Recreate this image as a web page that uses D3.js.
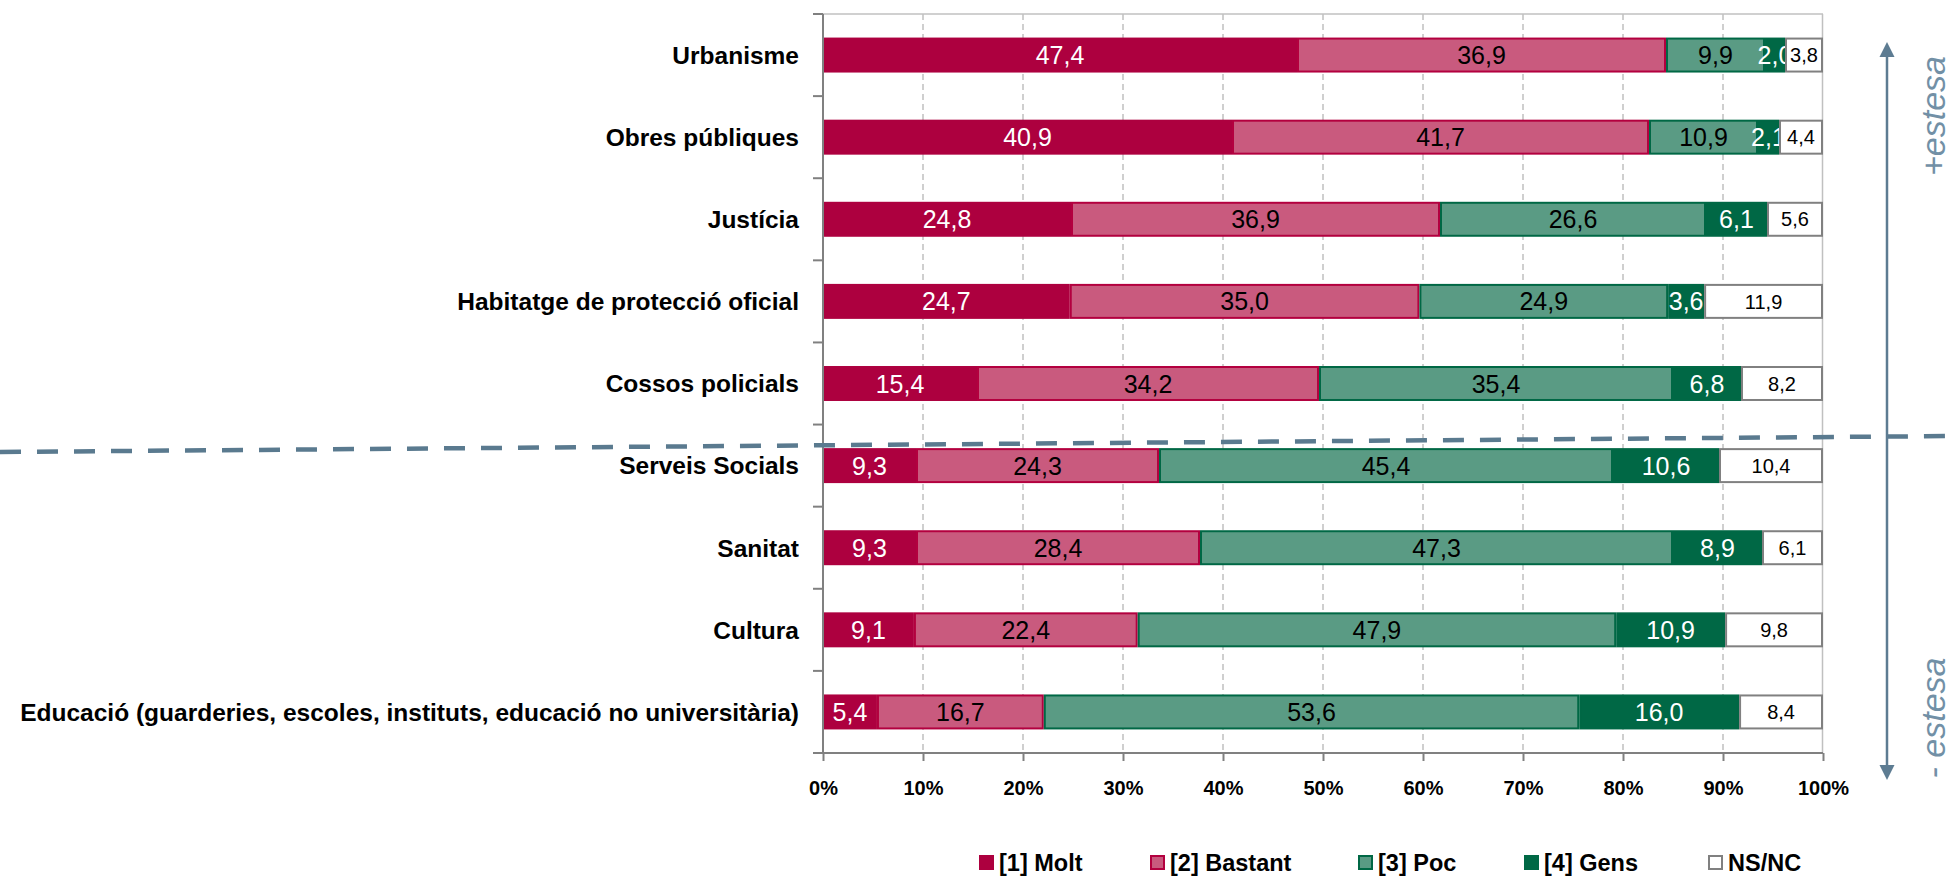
<!DOCTYPE html>
<html><head><meta charset="utf-8">
<script src="https://cdn.jsdelivr.net/npm/d3@7"></script>
<style>html,body{margin:0;padding:0;background:#fff;}svg{display:block;}</style>
</head><body>
<svg id="c" width="1955" height="880"></svg>
<script>
const categories = ["Urbanisme","Obres públiques","Justícia","Habitatge de protecció oficial","Cossos policials","Serveis Socials","Sanitat","Cultura","Educació (guarderies, escoles, instituts, educació no universitària)"];
const seriesNames = ["[1] Molt","[2] Bastant","[3] Poc","[4] Gens","NS/NC"];
const molt    = [47.4,40.9,24.8,24.7,15.4,9.3,9.3,9.1,5.4];
const bastant = [36.9,41.7,36.9,35.0,34.2,24.3,28.4,22.4,16.7];
const poc     = [9.9,10.9,26.6,24.9,35.4,45.4,47.3,47.9,53.6];
const gens    = [2.0,2.1,6.1,3.6,6.8,10.6,8.9,10.9,16.0];
const nsnc    = [3.8,4.4,5.6,11.9,8.2,10.4,6.1,9.8,8.4];
const tickValues = [0,0.1,0.2,0.3,0.4,0.5,0.6,0.7,0.8,0.9,1];

const seriesVals = [molt,bastant,poc,gens,nsnc];
const fills   = ["#ad003f","#c95a7e","#5a9b84","#006845","#ffffff"];
const strokes = ["#ad003f","#b3003f","#006845","#006845","#808080"];
const txtCol  = ["#fff","#000","#000","#fff","#000"];

const svg = d3.select("#c");
const x = d3.scaleLinear().domain([0,1]).range([823,1823]);
const y = d3.scaleBand().domain(categories).range([14,753]).paddingInner(0.574).paddingOuter(0.287);
const font = "'Liberation Sans', Arial, sans-serif";

// grid
svg.append("g").selectAll("line").data(tickValues.slice(1,10)).join("line")
  .attr("x1",d=>x(d)).attr("x2",d=>x(d)).attr("y1",14).attr("y2",753)
  .attr("stroke","#c0c0c0").attr("stroke-width",1.5).attr("stroke-dasharray","6,4");
svg.append("line").attr("x1",x(0)).attr("x2",x(1)).attr("y1",14).attr("y2",14).attr("stroke","#c0c0c0").attr("stroke-width",1.5);
svg.append("line").attr("x1",x(1)-0.5).attr("x2",x(1)-0.5).attr("y1",14).attr("y2",753).attr("stroke","#c0c0c0").attr("stroke-width",1.5);

// stacked data
const rows = categories.map((c,i)=>{
  const vals = seriesVals.map(s=>s[i]);
  const tot = d3.sum(vals);
  let acc = 0;
  return vals.map((v,k)=>{ const s=acc/tot; acc+=v; return {cat:c,k,v,x0:s,x1:acc/tot}; });
});
const fmt = v => d3.format(".1f")(v).replace(".",",");

seriesNames.forEach((name,k)=>{
  const g = svg.append("g");
  const d = rows.map(r=>r[k]);
  const sw = k===0?0:2;
  g.selectAll("rect").data(d).join("rect")
    .attr("x",e=>x(e.x0)+sw/2).attr("y",e=>y(e.cat)+sw/2)
    .attr("width",e=>Math.max(0,x(e.x1)-x(e.x0)-sw)).attr("height",y.bandwidth()-sw)
    .attr("fill",fills[k]).attr("stroke",strokes[k]).attr("stroke-width",sw);
  g.selectAll("text").data(d).join("text")
    .attr("x",e=>(x(e.x0)+x(e.x1))/2).attr("y",e=>y(e.cat)+y.bandwidth()/2)
    .attr("dy","0.36em").attr("text-anchor","middle")
    .attr("font-family",font).attr("font-size",k===4?20:25)
    .attr("fill",txtCol[k]).text(e=>fmt(e.v));
});

// left axis
svg.append("line").attr("x1",x(0)).attr("x2",x(0)).attr("y1",14).attr("y2",753).attr("stroke","#808080").attr("stroke-width",2);
svg.append("g").selectAll("line").data(d3.range(categories.length+1)).join("line")
  .attr("x1",813).attr("x2",x(0)).attr("y1",i=>14+i*y.step()).attr("y2",i=>14+i*y.step())
  .attr("stroke","#808080").attr("stroke-width",2);
svg.append("g").selectAll("text").data(categories).join("text")
  .attr("x",799).attr("y",d=>y(d)+y.bandwidth()/2).attr("dy","0.36em").attr("text-anchor","end")
  .attr("font-family",font).attr("font-weight","bold").attr("font-size",24.5).attr("fill","#000").text(d=>d);

// bottom axis
const xa = svg.append("g").attr("transform","translate(0,753)")
  .call(d3.axisBottom(x).tickValues(tickValues).tickFormat(d3.format(".0%")).tickSize(8).tickSizeOuter(0));
xa.select(".domain").remove();
xa.append("line").attr("x1",813).attr("x2",x(1)).attr("stroke","#808080").attr("stroke-width",2);
xa.selectAll(".tick line").attr("stroke","#808080").attr("stroke-width",2);
xa.selectAll(".tick text").attr("y",28).attr("dy","0.71em").attr("font-family",font).attr("font-weight","bold").attr("font-size",20).attr("fill","#000");

// legend
const legX = [979,1150,1358,1524,1708];
const lg = svg.append("g").selectAll("g").data(seriesNames).join("g").attr("transform",(d,i)=>`translate(${legX[i]},855)`);
lg.append("rect").attr("x",1).attr("y",1).attr("width",13).attr("height",13)
  .attr("fill",(d,i)=>fills[i]).attr("stroke",(d,i)=>strokes[i]).attr("stroke-width",2);
lg.append("text").attr("x",20).attr("y",16).attr("font-family",font).attr("font-weight","bold").attr("font-size",23.5).attr("fill","#000").text(d=>d);

// separator dashed line
svg.append("line").attr("x1",0).attr("y1",452).attr("x2",1955).attr("y2",436)
  .attr("stroke","#5a7a8f").attr("stroke-width",4.5).attr("stroke-dasharray","21,16");

// arrow
const ac = "#5d7c92";
svg.append("line").attr("x1",1887).attr("x2",1887).attr("y1",55).attr("y2",767).attr("stroke",ac).attr("stroke-width",2.5);
svg.append("path").attr("d","M1887,42 L1879.5,57 L1894.5,57 Z").attr("fill",ac);
svg.append("path").attr("d","M1887,780 L1879.5,765 L1894.5,765 Z").attr("fill",ac);
const lc = "#7290a6";
svg.append("text").attr("transform","translate(1933,116) rotate(-90)").attr("text-anchor","middle").attr("dy","0.36em")
  .attr("font-family",font).attr("font-style","italic").attr("font-size",34).attr("fill",lc).text("+estesa");
svg.append("text").attr("transform","translate(1933,718) rotate(-90)").attr("text-anchor","middle").attr("dy","0.36em")
  .attr("font-family",font).attr("font-style","italic").attr("font-size",34).attr("fill",lc).text("- estesa");
</script>
</body></html>
